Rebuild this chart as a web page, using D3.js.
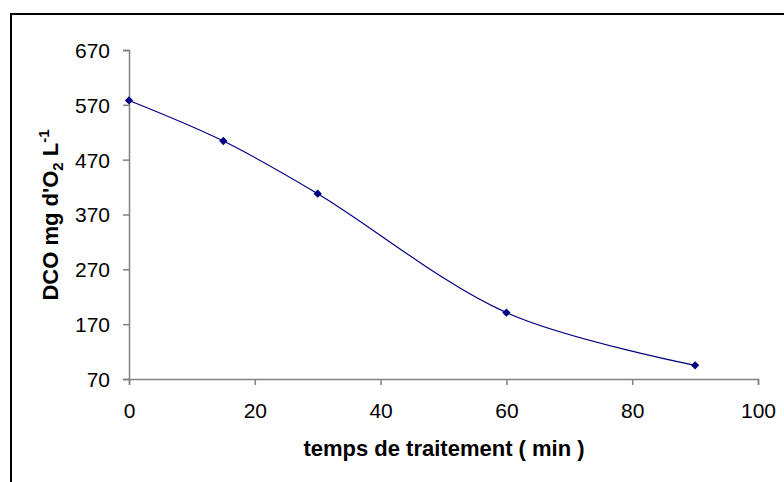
<!DOCTYPE html>
<html>
<head>
<meta charset="utf-8">
<script src="https://cdn.jsdelivr.net/npm/d3@7"></script>
<style>
  body { margin: 0; background: #fff; }
  text { font-family: "Liberation Sans", Arial, sans-serif; }
</style>
</head>
<body>
<div id="chart"></div>
<script>
const times = [0, 15, 30, 60, 90];
const dco = [578, 504, 408, 191, 95];
const xTicks = [0, 20, 40, 60, 80, 100];
const yTicks = [70, 170, 270, 370, 470, 570, 670];

const width = 784;
const height = 482;

const svg = d3.select("#chart")
  .append("svg")
  .attr("width", width)
  .attr("height", height);

// outer frame (only left and top visible)
svg.append("path")
  .attr("d", "M11,482V14H784")
  .attr("fill", "none")
  .attr("stroke", "#000")
  .attr("stroke-width", 2);

const x = d3.scaleLinear().domain([0, 100]).range([129, 758]);
const y = d3.scaleLinear().domain([70, 670]).range([379, 50]);

const xAxis = svg.append("g")
  .attr("transform", "translate(0,379)")
  .call(d3.axisBottom(x).tickValues(xTicks).tickSize(6).tickPadding(18));

const yAxis = svg.append("g")
  .attr("transform", "translate(129,0)")
  .call(d3.axisLeft(y).tickValues(yTicks).tickSize(6).tickPadding(13));

[xAxis, yAxis].forEach(g => {
  g.select(".domain").attr("stroke", "#808080").attr("stroke-width", 1.5);
  g.selectAll(".tick line").attr("stroke", "#808080").attr("stroke-width", 1.5);
  g.selectAll(".tick text")
    .style("font-family", "'Liberation Sans', Arial, sans-serif")
    .style("font-size", "21px")
    .attr("fill", "#000");
});
yAxis.selectAll(".tick text").attr("dy", "0.35em");

const pts = times.map((t, i) => ({t: t, v: dco[i]}));

const line = d3.line()
  .x(d => x(d.t))
  .y(d => y(d.v))
  .curve(d3.curveCatmullRom.alpha(0.5));

svg.append("path")
  .datum(pts)
  .attr("fill", "none")
  .attr("stroke", "#000080")
  .attr("stroke-width", 1.2)
  .attr("d", line);

const diamond = d3.symbol().type(d3.symbolDiamond2).size(44);
svg.selectAll("path.pt")
  .data(pts)
  .enter()
  .append("path")
  .attr("class", "pt")
  .attr("d", diamond)
  .attr("transform", d => "translate(" + x(d.t) + "," + y(d.v) + ")")
  .attr("fill", "#000080");

svg.append("text")
  .attr("x", 444)
  .attr("y", 456)
  .attr("text-anchor", "middle")
  .style("font-size", "22px")
  .style("font-weight", "bold")
  .text("temps de traitement ( min )");

const yl = svg.append("text")
  .attr("transform", "translate(58,215) rotate(-90)")
  .attr("text-anchor", "middle")
  .style("font-size", "22px")
  .style("font-weight", "bold");
yl.append("tspan").text("DCO mg d'O");
yl.append("tspan").attr("baseline-shift", "-5").style("font-size", "15px").text("2");
yl.append("tspan").text(" L");
yl.append("tspan").attr("baseline-shift", "9").style("font-size", "15px").text("-1");
</script>
</body>
</html>
